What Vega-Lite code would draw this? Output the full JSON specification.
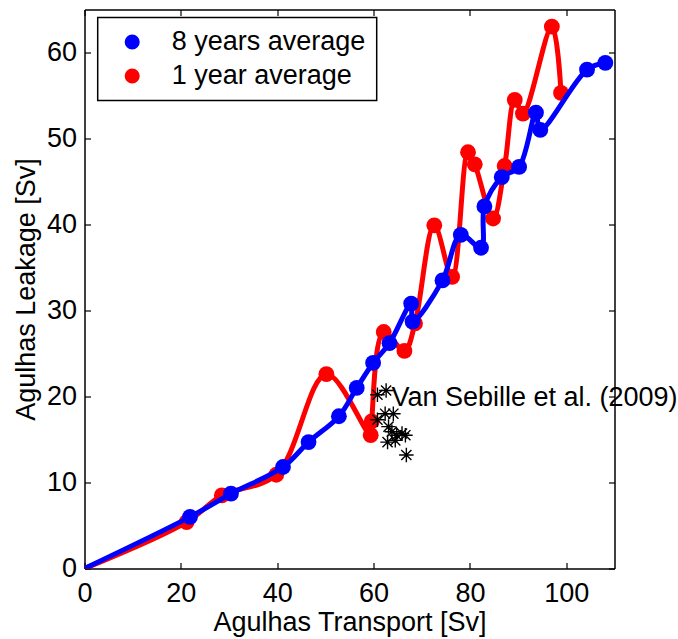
{
  "$schema": "https://vega.github.io/schema/vega-lite/v6.json",
  "width": 530,
  "height": 559,
  "autosize": {"type": "none"},
  "padding": {"left": 84.5, "top": 9.5, "right": 63.5, "bottom": 70.5},
  "background": "white",
  "config": {
    "view": {"stroke": null},
    "font": "Liberation Sans",
    "axis": {
      "grid": false,
      "domainColor": "black",
      "domainWidth": 1.5,
      "tickColor": "black",
      "tickWidth": 1.2,
      "tickSize": -6,
      "labelFlush": false,
      "labelFont": "Liberation Sans",
      "labelFontSize": 27,
      "labelColor": "black",
      "titleFont": "Liberation Sans",
      "titleFontSize": 27,
      "titleFontWeight": "normal",
      "titleColor": "black"
    },
    "legend": {
      "orient": "none",
      "legendX": 13.2,
      "legendY": 8,
      "padding": 11,
      "strokeColor": "black",
      "strokeWidth": 1.5,
      "fillColor": "white",
      "cornerRadius": 0,
      "labelFont": "Liberation Sans",
      "labelFontSize": 27,
      "labelColor": "black",
      "labelLimit": 0,
      "symbolType": "circle",
      "symbolSize": 227,
      "symbolStrokeWidth": 0,
      "symbolOffset": 10,
      "labelOffset": 26,
      "rowPadding": 6
    }
  },
  "datasets": {
    "curves": [
      {"series": "8 years average", "order": 0, "x": 0, "y": 0},
      {"series": "8 years average", "order": 1, "x": 21.9, "y": 6.0},
      {"series": "8 years average", "order": 2, "x": 30.4, "y": 8.7},
      {"series": "8 years average", "order": 3, "x": 41.2, "y": 11.8},
      {"series": "8 years average", "order": 4, "x": 46.5, "y": 14.7},
      {"series": "8 years average", "order": 5, "x": 52.8, "y": 17.7},
      {"series": "8 years average", "order": 6, "x": 56.5, "y": 21.0},
      {"series": "8 years average", "order": 7, "x": 59.9, "y": 23.9},
      {"series": "8 years average", "order": 8, "x": 63.3, "y": 26.2},
      {"series": "8 years average", "order": 9, "x": 67.8, "y": 30.8},
      {"series": "8 years average", "order": 10, "x": 68.1, "y": 28.7},
      {"series": "8 years average", "order": 11, "x": 74.3, "y": 33.5},
      {"series": "8 years average", "order": 12, "x": 78.1, "y": 38.8},
      {"series": "8 years average", "order": 13, "x": 82.3, "y": 37.3},
      {"series": "8 years average", "order": 14, "x": 83.0, "y": 42.1},
      {"series": "8 years average", "order": 15, "x": 86.6, "y": 45.5},
      {"series": "8 years average", "order": 16, "x": 90.2, "y": 46.7},
      {"series": "8 years average", "order": 17, "x": 93.7, "y": 53.0},
      {"series": "8 years average", "order": 18, "x": 94.6, "y": 51.0},
      {"series": "8 years average", "order": 19, "x": 104.3, "y": 58.0},
      {"series": "8 years average", "order": 20, "x": 108.1, "y": 58.8},
      {"series": "1 year average", "order": 0, "x": 0, "y": 0},
      {"series": "1 year average", "order": 1, "x": 21.2, "y": 5.4},
      {"series": "1 year average", "order": 2, "x": 28.5, "y": 8.5},
      {"series": "1 year average", "order": 3, "x": 39.8, "y": 10.9},
      {"series": "1 year average", "order": 4, "x": 50.2, "y": 22.6},
      {"series": "1 year average", "order": 5, "x": 59.4, "y": 15.5},
      {"series": "1 year average", "order": 6, "x": 59.6, "y": 17.1},
      {"series": "1 year average", "order": 7, "x": 62.1, "y": 27.5},
      {"series": "1 year average", "order": 8, "x": 66.4, "y": 25.3},
      {"series": "1 year average", "order": 9, "x": 68.6, "y": 28.5},
      {"series": "1 year average", "order": 10, "x": 72.6, "y": 39.9},
      {"series": "1 year average", "order": 11, "x": 76.3, "y": 33.9},
      {"series": "1 year average", "order": 12, "x": 79.6, "y": 48.4},
      {"series": "1 year average", "order": 13, "x": 81.0, "y": 47.0},
      {"series": "1 year average", "order": 14, "x": 84.8, "y": 40.7},
      {"series": "1 year average", "order": 15, "x": 87.2, "y": 46.8},
      {"series": "1 year average", "order": 16, "x": 89.3, "y": 54.5},
      {"series": "1 year average", "order": 17, "x": 91.0, "y": 52.9},
      {"series": "1 year average", "order": 18, "x": 97.0, "y": 63.0},
      {"series": "1 year average", "order": 19, "x": 98.9, "y": 55.3}
    ],
    "vansebille": [
      {"x": 60.8, "y": 20.2},
      {"x": 62.6, "y": 20.7},
      {"x": 60.8, "y": 17.3},
      {"x": 62.4, "y": 18.0},
      {"x": 64.1, "y": 18.0},
      {"x": 63.1, "y": 16.5},
      {"x": 63.8, "y": 15.9},
      {"x": 64.8, "y": 15.5},
      {"x": 65.9, "y": 15.7},
      {"x": 66.6, "y": 15.5},
      {"x": 62.9, "y": 14.7},
      {"x": 64.5, "y": 14.9},
      {"x": 66.8, "y": 13.2}
    ],
    "note": [
      {"x": 63.7, "y": 18.9, "label": "Van Sebille et al. (2009)"}
    ]
  },
  "layer": [
    {
      "data": {"name": "curves"},
      "transform": [{"filter": "datum.series == '1 year average'"}],
      "mark": {"type": "line", "color": "#ff0000", "strokeWidth": 5, "interpolate": "catmull-rom", "clip": true},
      "encoding": {
        "x": {"field": "x", "type": "quantitative", "scale": {"domain": [0, 110], "nice": false},
              "axis": {"values": [0, 20, 40, 60, 80, 100], "labelPadding": 18, "title": "Agulhas Transport [Sv]", "titlePadding": 3}},
        "y": {"field": "y", "type": "quantitative", "scale": {"domain": [0, 65], "nice": false},
              "axis": {"values": [0, 10, 20, 30, 40, 50, 60], "labelPadding": 14, "title": "Agulhas Leakage [Sv]", "titlePadding": 6}},
        "order": {"field": "order", "type": "quantitative"}
      }
    },
    {
      "data": {"name": "curves"},
      "transform": [{"filter": "datum.series == '1 year average' && datum.x > 0"}],
      "mark": {"type": "point", "shape": "circle", "filled": true, "size": 250, "opacity": 1, "strokeWidth": 0},
      "encoding": {
        "x": {"field": "x", "type": "quantitative", "axis": null},
        "y": {"field": "y", "type": "quantitative", "axis": null},
        "color": {"field": "series", "type": "nominal",
                  "scale": {"domain": ["8 years average", "1 year average"], "range": ["#0000ff", "#ff0000"]},
                  "legend": {"title": null}}
      }
    },
    {
      "data": {"name": "curves"},
      "transform": [{"filter": "datum.series == '8 years average'"}],
      "mark": {"type": "line", "color": "#0000ff", "strokeWidth": 5, "interpolate": "catmull-rom", "clip": true},
      "encoding": {
        "x": {"field": "x", "type": "quantitative", "axis": null},
        "y": {"field": "y", "type": "quantitative", "axis": null},
        "order": {"field": "order", "type": "quantitative"}
      }
    },
    {
      "data": {"name": "curves"},
      "transform": [{"filter": "datum.series == '8 years average' && datum.x > 0"}],
      "mark": {"type": "point", "shape": "circle", "filled": true, "size": 250, "opacity": 1, "strokeWidth": 0},
      "encoding": {
        "x": {"field": "x", "type": "quantitative", "axis": null},
        "y": {"field": "y", "type": "quantitative", "axis": null},
        "color": {"field": "series", "type": "nominal"}
      }
    },
    {
      "data": {"name": "vansebille"},
      "mark": {"type": "point", "shape": "M-1,0H1M0,-1V1M-0.7,-0.7L0.7,0.7M-0.7,0.7L0.7,-0.7", "filled": false, "color": "black", "strokeWidth": 1.4, "size": 210, "opacity": 1},
      "encoding": {
        "x": {"field": "x", "type": "quantitative",
              "axis": {"orient": "top", "values": [0, 20, 40, 60, 80, 100], "labels": false, "title": null, "zindex": 1}},
        "y": {"field": "y", "type": "quantitative",
              "axis": {"orient": "right", "values": [0, 10, 20, 30, 40, 50, 60], "labels": false, "title": null, "zindex": 1}}
      }
    },
    {
      "data": {"name": "note"},
      "mark": {"type": "text", "align": "left", "baseline": "alphabetic", "fontSize": 27, "font": "Liberation Sans", "color": "black"},
      "encoding": {
        "x": {"field": "x", "type": "quantitative", "axis": null},
        "y": {"field": "y", "type": "quantitative", "axis": null},
        "text": {"field": "label", "type": "nominal"}
      }
    }
  ],
  "resolve": {"axis": {"x": "independent", "y": "independent"}}
}
